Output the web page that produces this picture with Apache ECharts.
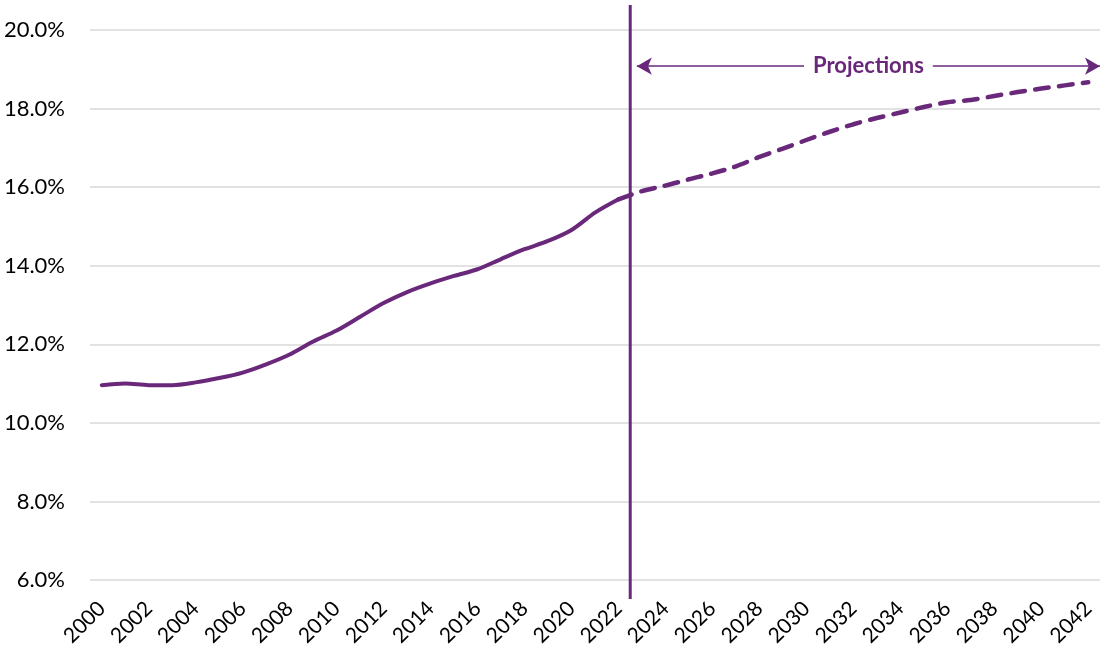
<!DOCTYPE html>
<html>
<head>
<meta charset="utf-8">
<title>Share over time, with projections</title>
<script src="https://cdn.jsdelivr.net/npm/echarts@6/dist/echarts.min.js"></script>
<style>
  html, body { margin: 0; padding: 0; background: #ffffff; }
  #chart { width: 1100px; height: 652px; }
</style>
</head>
<body>
<div id="chart"></div>
<script>
// Observed years and share (%)
const actualYears = [2000, 2001, 2002, 2003, 2004, 2005, 2006, 2007, 2008, 2009, 2010,
  2011, 2012, 2013, 2014, 2015, 2016, 2017, 2018, 2019, 2020, 2021, 2022];
const actualShare = [10.96, 11.00, 10.96, 10.96, 11.03, 11.14, 11.28, 11.49, 11.74, 12.07, 12.35,
  12.70, 13.05, 13.33, 13.55, 13.74, 13.91, 14.17, 14.42, 14.63, 14.91, 15.35, 15.69];

// Projected years and share (%), starting from the last observed year
const projectedYears = [2022, 2023, 2024, 2025, 2026, 2027, 2028, 2029, 2030, 2031, 2032,
  2033, 2034, 2035, 2036, 2037, 2038, 2039, 2040, 2041, 2042];
const projectedShare = [15.69, 15.90, 16.04, 16.20, 16.35, 16.53, 16.77, 16.98, 17.20, 17.41, 17.60,
  17.76, 17.90, 18.04, 18.16, 18.22, 18.32, 18.42, 18.51, 18.59, 18.67];

// Year labels shown on the horizontal axis
const yearTicks = [2000, 2002, 2004, 2006, 2008, 2010, 2012, 2014, 2016, 2018, 2020,
  2022, 2024, 2026, 2028, 2030, 2032, 2034, 2036, 2038, 2040, 2042];

// Boundary between observed data and projections, and the projections bracket
const projectionStart = 2022.5;
const bracketStart = 2022.78;
const bracketEnd = 2042.5;
const bracketLevel = 19.08;
const bracketText = 'Projections';

const PURPLE = '#6a287b';
const FONT = 'Lato, "Open Sans", sans-serif';

const pairs = (xs, ys) => xs.map((x, i) => [x, ys[i]]);

const chart = echarts.init(document.getElementById('chart'), null, { renderer: 'canvas' });

chart.setOption({
  animation: false,
  backgroundColor: '#ffffff',
  grid: { left: 90, right: 0, top: 30, bottom: 72, containLabel: false },
  xAxis: {
    type: 'value',
    min: 1999.5,
    max: 2042.5,
    axisLine: { show: false },
    axisTick: { show: false },
    splitLine: { show: false },
    axisLabel: {
      customValues: yearTicks,
      rotate: 45,
      margin: 25,
      color: '#000000',
      fontFamily: FONT,
      fontSize: 21,
      formatter: (v) => String(v)
    }
  },
  yAxis: {
    type: 'value',
    min: 6,
    max: 20,
    interval: 2,
    axisLine: { show: false },
    axisTick: { show: false },
    splitLine: { show: true, lineStyle: { color: '#d9d9d9', width: 1.5 } },
    axisLabel: {
      margin: 25,
      color: '#000000',
      fontFamily: FONT,
      fontSize: 22,
      formatter: (v) => v.toFixed(1) + '%'
    }
  },
  series: [
    {
      name: 'Observed',
      type: 'line',
      data: pairs(actualYears, actualShare),
      smooth: 0.3,
      symbol: 'none',
      lineStyle: { color: PURPLE, width: 4, cap: 'round', join: 'round' },
      z: 3
    },
    {
      name: 'Projected',
      type: 'line',
      data: pairs(projectedYears, projectedShare),
      smooth: 0.3,
      symbol: 'none',
      lineStyle: { color: PURPLE, width: 4.5, type: [14, 10], cap: 'round' },
      z: 3,
      markLine: {
        silent: true,
        animation: false,
        symbol: ['arrow', 'arrow'],
        symbolSize: [13, 15],
        lineStyle: { color: PURPLE, width: 1.5, type: 'solid' },
        label: {
          show: true,
          position: 'insideMiddle',
          formatter: bracketText,
          color: PURPLE,
          fontFamily: FONT,
          fontWeight: 'bold',
          fontSize: 22,
          backgroundColor: '#ffffff',
          padding: [2, 9],
          distance: 0
        },
        data: [[
          { coord: [bracketStart, bracketLevel] },
          { coord: [bracketEnd, bracketLevel] }
        ]]
      }
    }
  ]
});

// Divider between observed and projected years, running a little beyond the plot area
const dividerTop = chart.convertToPixel({ gridIndex: 0 }, [projectionStart, 20]);
const dividerBottom = chart.convertToPixel({ gridIndex: 0 }, [projectionStart, 6]);
chart.setOption({
  graphic: [{
    type: 'line',
    z: 10,
    shape: { x1: dividerTop[0], y1: dividerTop[1] - 25, x2: dividerBottom[0], y2: dividerBottom[1] + 19 },
    style: { stroke: PURPLE, lineWidth: 3 }
  }]
});
</script>
</body>
</html>
